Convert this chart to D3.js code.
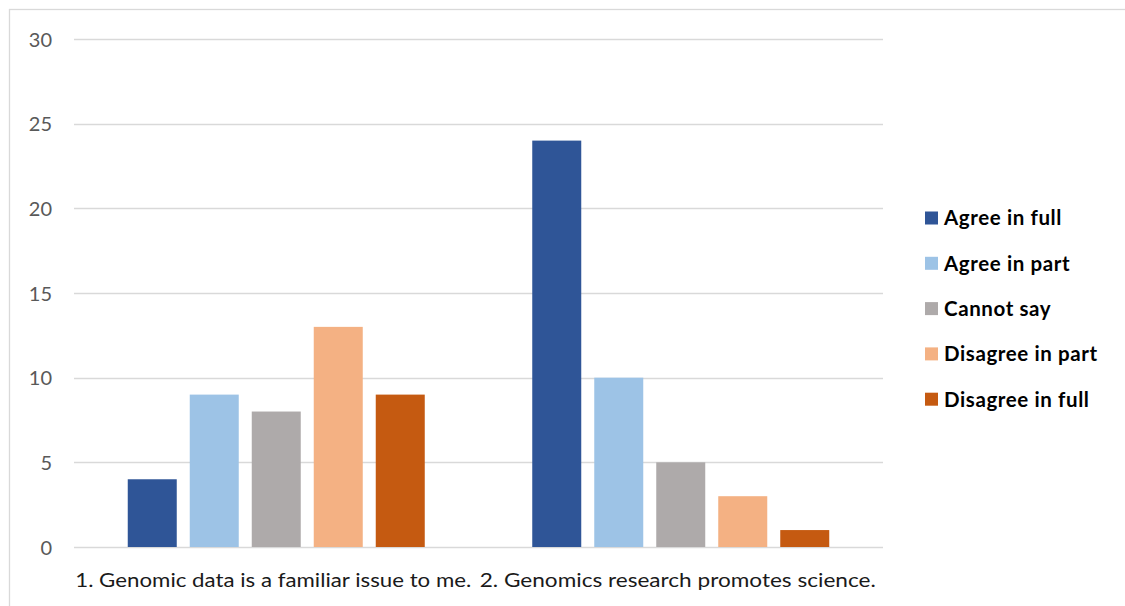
<!DOCTYPE html>
<html>
<head>
<meta charset="utf-8">
<script src="https://cdn.jsdelivr.net/npm/d3@7"></script>
<style>
  html, body { margin: 0; padding: 0; background: #fff; }
  svg { display: block; }
</style>
</head>
<body>
<script>
// Survey responses per statement
const categories = [
  "1. Genomic data is a familiar issue to me.",
  "2. Genomics research promotes science."
];
const seriesNames = ["Agree in full", "Agree in part", "Cannot say", "Disagree in part", "Disagree in full"];
const seriesColors = ["#2F5597", "#9DC3E6", "#AEAAAA", "#F4B183", "#C55A11"];
const agreeFull = [4, 24];
const agreePart = [9, 10];
const cannotSay = [8, 5];
const disagreePart = [13, 3];
const disagreeFull = [9, 1];
const yTicks = [0, 5, 10, 15, 20, 25, 30];

const seriesValues = [agreeFull, agreePart, cannotSay, disagreePart, disagreeFull];

const W = 1125, H = 606;
const FONT = "Lato, 'Open Sans', sans-serif";
const svg = d3.select("body").append("svg").attr("width", W).attr("height", H);

// chart frame
svg.append("rect")
  .attr("x", 9.5).attr("y", 9.5)
  .attr("width", W + 20).attr("height", H + 20)
  .attr("fill", "#fff").attr("stroke", "#d9d9d9").attr("stroke-width", 1.3);

const plot = { left: 74, right: 883, top: 39, bottom: 547 };

const x0 = d3.scaleBand().domain(categories).range([plot.left, plot.right]).paddingInner(0).paddingOuter(0);
const y = d3.scaleLinear().domain([0, 30]).range([plot.bottom, plot.top]);

// gridlines
svg.append("g")
  .selectAll("line")
  .data(yTicks)
  .join("line")
  .attr("x1", plot.left).attr("x2", plot.right)
  .attr("y1", d => Math.round(y(d)) + 0.5).attr("y2", d => Math.round(y(d)) + 0.5)
  .attr("stroke", "#d9d9d9").attr("stroke-width", 1.3);

// y-axis labels
const yAxis = d3.axisLeft(y).tickValues(yTicks).tickSize(0).tickPadding(0);
const yg = svg.append("g").attr("transform", `translate(${plot.left - 22},0)`).call(yAxis);
yg.select(".domain").remove();
yg.selectAll("text")
  .attr("font-family", FONT)
  .attr("font-size", 20)
  .attr("fill", "#595959")
  .attr("dy", "0.36em");

// bars: width and step within each category band
const barW = 49, barStep = 62;
const groups = svg.append("g")
  .selectAll("g")
  .data(categories)
  .join("g");

groups.selectAll("rect")
  .data((c, ci) => seriesValues.map((vals, si) => ({ si, v: vals[ci], c })))
  .join("rect")
  .attr("x", d => x0(d.c) + x0.bandwidth() / 2 - (barStep * 2 + barW / 2) + d.si * barStep)
  .attr("y", d => y(d.v))
  .attr("width", barW)
  .attr("height", d => y(0) - y(d.v))
  .attr("fill", d => seriesColors[d.si]);

// category labels
const xAxis = d3.axisBottom(x0).tickSize(0).tickPadding(0);
const xg = svg.append("g").attr("transform", `translate(-3,${plot.bottom + 33})`).call(xAxis);
xg.select(".domain").remove();
xg.selectAll("text")
  .attr("font-family", FONT)
  .attr("font-size", 19.5)
  .attr("fill", "#1a1a1a")
  .attr("dy", "0.36em")
  .attr("textLength", 396)
  .attr("lengthAdjust", "spacingAndGlyphs");

// legend
const legend = svg.append("g").attr("transform", "translate(925,218)");
const items = legend.selectAll("g")
  .data(seriesNames)
  .join("g")
  .attr("transform", (d, i) => `translate(0,${i * 45.3})`);
items.append("rect")
  .attr("x", 0).attr("y", -6.5).attr("width", 13).attr("height", 13)
  .attr("fill", (d, i) => seriesColors[i]);
items.append("text")
  .attr("x", 19).attr("y", 0).attr("dy", "0.36em")
  .attr("font-family", FONT)
  .attr("font-weight", "bold")
  .attr("font-size", 20.5)
  .attr("letter-spacing", 0.6)
  .attr("fill", "#000")
  .text(d => d);
</script>
</body>
</html>
